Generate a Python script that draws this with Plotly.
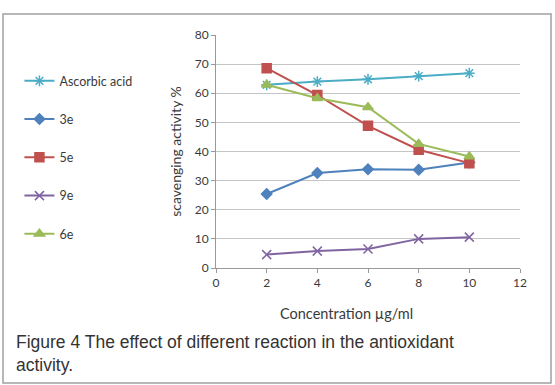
import plotly.graph_objects as go

concentration = [2, 4, 6, 8, 10]
ascorbic_acid = [62.9, 64.0, 64.8, 65.9, 66.9]
s3e = [25.4, 32.6, 33.9, 33.7, 36.2]
s5e = [68.6, 59.4, 48.8, 40.6, 36.0]
s9e = [4.6, 5.8, 6.5, 10.0, 10.6]
s6e = [62.9, 58.3, 55.2, 42.6, 38.3]

series = [
    ("Ascorbic acid", ascorbic_acid, "#4BACC6", "asterisk-open", 9),
    ("3e", s3e, "#4F81BD", "diamond", 8),
    ("5e", s5e, "#C0504D", "square", 9),
    ("9e", s9e, "#8064A2", "x-thin-open", 9),
    ("6e", s6e, "#9BBB59", "triangle-up", 9),
]

W, H = 555, 385
L, R, T, B = 216, 35, 35, 117
PW, PH = W - L - R, H - T - B

def px(x):
    return (x - L) / PW

def py(y):
    return (H - B - y) / PH

FONT = "Lato, Arial, sans-serif"
TXT = "#3a3a3a"

fig = go.Figure()
for i, (name, vals, col, sym, sz) in enumerate(series):
    fig.add_trace(go.Scatter(
        x=concentration, y=vals, name=name, mode="lines+markers",
        legendgroup=f"g{i}",
        line=dict(color=col, width=2),
        marker=dict(symbol=sym, size=sz, color=col, line=dict(color=col, width=1.5)),
    ))

fig.update_layout(
    width=W, height=H,
    margin=dict(l=L, r=R, t=T, b=B),
    paper_bgcolor="white", plot_bgcolor="white",
    font=dict(family=FONT, size=12, color=TXT),
    showlegend=True,
    legend=dict(
        xref="container", yref="container", x=0.035, y=0.828,
        xanchor="left", yanchor="top",
        font=dict(size=12.5, color=TXT, family=FONT),
        tracegroupgap=19, bgcolor="rgba(0,0,0,0)",
    ),
    xaxis=dict(
        range=[0, 12], dtick=2, tick0=0, showgrid=False,
        showline=True, linecolor="#999999", linewidth=1,
        ticks="outside", ticklen=4, tickcolor="#999999",
        tickfont=dict(size=12, color=TXT),
        zeroline=False,
    ),
    yaxis=dict(
        range=[0, 80], dtick=10, tick0=0, showgrid=True, gridcolor="#C4C4C4",
        showline=True, linecolor="#999999", linewidth=1,
        ticks="outside", ticklen=4, tickcolor="#999999",
        tickfont=dict(size=12, color=TXT),
        title=dict(text="scavenging activity %", font=dict(size=14, color=TXT), standoff=9),
        zeroline=False,
    ),
)

fig.add_annotation(
    xref="paper", yref="paper", x=px(346), y=py(313), xanchor="center", yanchor="middle",
    text="Concentration µg/ml", showarrow=False,
    font=dict(size=14.5, color=TXT, family=FONT),
)

fig.add_shape(
    type="rect", xref="paper", yref="paper",
    x0=px(3), x1=px(551), y0=py(383), y1=py(14),
    line=dict(color="#A0A0A0", width=1.5), fillcolor="rgba(0,0,0,0)", layer="below",
)

fig.add_annotation(
    xref="paper", yref="paper", x=px(14), y=py(330), xanchor="left", yanchor="top",
    text="Figure 4 The effect of different reaction in the antioxidant<br>activity.",
    showarrow=False, align="left",
    font=dict(family="Liberation Sans, Arial, sans-serif", size=17.5, color="#333333"),
)

fig.write_html("out.html")
